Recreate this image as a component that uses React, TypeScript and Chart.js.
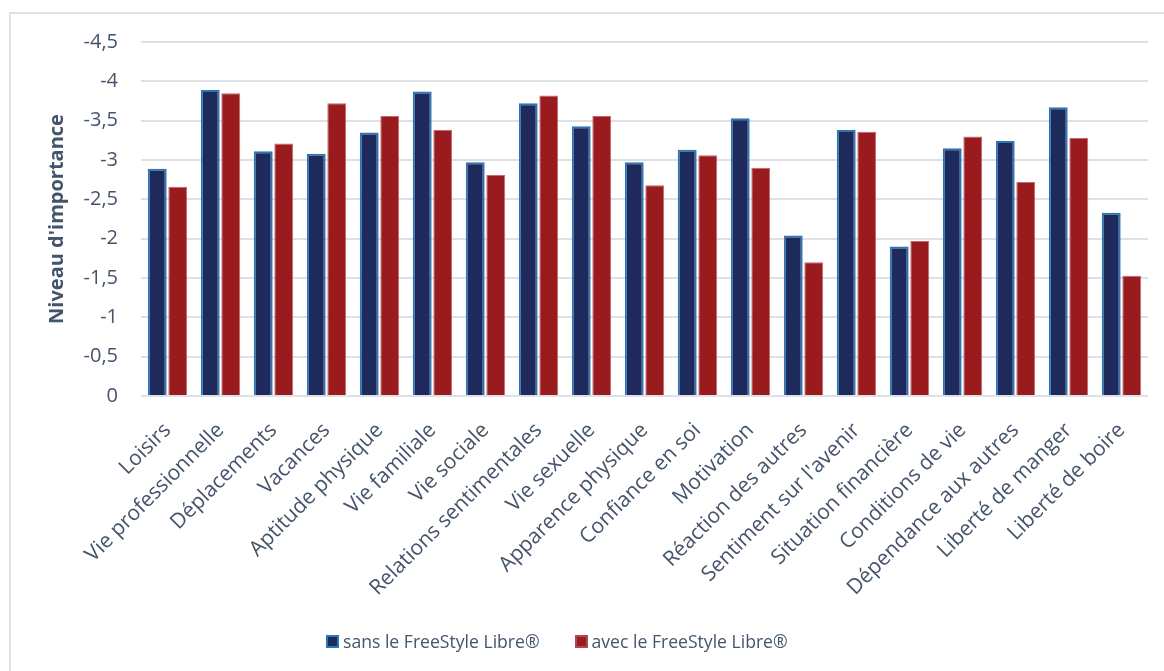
import React, { useEffect, useRef } from "react";
import { Chart, registerables } from "chart.js";

Chart.register(...registerables);

const categories = [
  "Loisirs",
  "Vie professionnelle",
  "Déplacements",
  "Vacances",
  "Aptitude physique",
  "Vie familiale",
  "Vie sociale",
  "Relations sentimentales",
  "Vie sexuelle",
  "Apparence physique",
  "Confiance en soi",
  "Motivation",
  "Réaction des autres",
  "Sentiment sur l'avenir",
  "Situation financière",
  "Conditions de vie",
  "Dépendance aux autres",
  "Liberté de manger",
  "Liberté de boire",
];

const seriesNames = ["sans le FreeStyle Libre®", "avec le FreeStyle Libre®"];

const sansValues = [
  -2.89, -3.89, -3.11, -3.08, -3.35, -3.87, -2.97, -3.72, -3.43, -2.97,
  -3.13, -3.53, -2.04, -3.38, -1.9, -3.15, -3.24, -3.67, -2.33,
];

const avecValues = [
  -2.66, -3.85, -3.21, -3.72, -3.56, -3.38, -2.81, -3.82, -3.56, -2.68,
  -3.06, -2.9, -1.7, -3.36, -1.97, -3.3, -2.72, -3.28, -1.53,
];

const yTickValues = [0, -0.5, -1, -1.5, -2, -2.5, -3, -3.5, -4, -4.5];

const axisTitle = "Niveau d'importance";

const NAVY = "#1F2A5C";
const NAVY_EDGE = "#2E75B6";
const RED = "#991B1E";
const RED_EDGE = "#C0686B";
const TEXT = "#44546A";
const GRID = "#DDE1E7";
const FONT = "'Open Sans', 'Noto Sans', sans-serif";

export default function App() {
  const canvasRef = useRef<HTMLCanvasElement | null>(null);

  useEffect(() => {
    const canvas = canvasRef.current;
    if (!canvas) return;
    const chart = new Chart(canvas, {
      type: "bar",
      data: {
        labels: categories,
        datasets: [
          {
            label: seriesNames[0],
            data: sansValues,
            backgroundColor: NAVY,
            borderColor: NAVY_EDGE,
            borderWidth: 2,
            categoryPercentage: 0.774,
            barPercentage: 0.92,
          },
          {
            label: seriesNames[1],
            data: avecValues,
            backgroundColor: RED,
            borderColor: RED_EDGE,
            borderWidth: 1,
            categoryPercentage: 0.774,
            barPercentage: 0.92,
          },
        ],
      },
      options: {
        animation: false,
        responsive: false,
        maintainAspectRatio: false,
        layout: { padding: { top: 28, left: 0, right: 16, bottom: 0 } },
        plugins: {
          legend: { display: false },
          tooltip: { enabled: false },
        },
        scales: {
          x: {
            grid: { display: false, drawTicks: false },
            border: { display: false },
            ticks: {
              color: TEXT,
              font: { family: FONT, size: 21 },
              maxRotation: 45,
              minRotation: 45,
              padding: 22,
              autoSkip: false,
            },
            afterFit: (scale: any) => {
              scale.height = 275;
            },
          },
          y: {
            reverse: true,
            min: -4.5,
            max: 0,
            afterBuildTicks: (scale: any) => {
              scale.ticks = yTickValues.map((v) => ({ value: v }));
            },
            // invisible tick marks give the gap between labels and plot
            grid: {
              color: GRID,
              lineWidth: 2,
              drawTicks: true,
              tickLength: 23,
              tickColor: "rgba(0,0,0,0)",
            },
            border: { display: false },
            ticks: {
              color: TEXT,
              font: { family: FONT, size: 20 },
              padding: 0,
              callback: (v: any) => String(v).replace(".", ","),
            },
            title: {
              display: true,
              text: axisTitle,
              color: TEXT,
              font: { family: FONT, size: 20, weight: "bold" },
              padding: { top: 34, bottom: 0 },
            },
            afterFit: (scale: any) => {
              scale.width = 130;
            },
          },
        },
      },
    });
    return () => chart.destroy();
  }, []);

  const legendItem = (name: string, fill: string, edge: string) => (
    <div style={{ display: "flex", alignItems: "center" }}>
      <span
        style={{
          display: "inline-block",
          width: 13,
          height: 13,
          boxSizing: "border-box",
          background: fill,
          border: `2px solid ${edge}`,
          marginRight: 4,
        }}
      />
      <span>{name}</span>
    </div>
  );

  return (
    <div
      style={{
        position: "absolute",
        left: 9,
        top: 12,
        width: 1155,
        height: 659,
        boxSizing: "border-box",
        borderTop: `2px solid ${GRID}`,
        borderLeft: `2px solid ${GRID}`,
        background: "#fff",
        overflow: "hidden",
      }}
    >
      <canvas ref={canvasRef} width={1153} height={657} style={{ display: "block" }} />
      <div
        style={{
          position: "absolute",
          left: 315,
          top: 615,
          display: "flex",
          gap: 35,
          fontFamily: FONT,
          fontSize: 17.6,
          color: TEXT,
          lineHeight: "24px",
        }}
      >
        {legendItem(seriesNames[0], NAVY, NAVY_EDGE)}
        {legendItem(seriesNames[1], RED, "#B04A4D")}
      </div>
    </div>
  );
}
